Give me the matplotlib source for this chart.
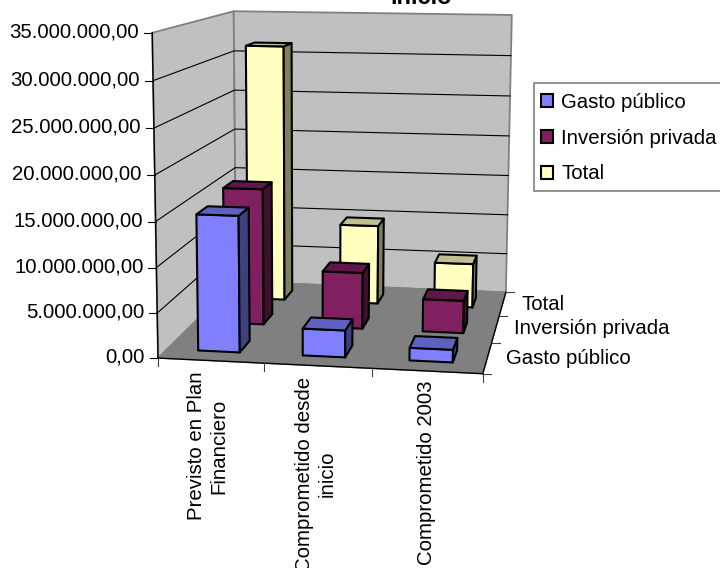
import numpy as np
import matplotlib
matplotlib.use("Agg")
import matplotlib.pyplot as plt
from matplotlib.patches import Patch, Rectangle

plt.rcParams["font.family"] = ["Liberation Sans", "DejaVu Sans"]

categories = ["Previsto en Plan\nFinanciero", "Comprometido desde\ninicio", "Comprometido 2003"]
series = ["Gasto público", "Inversión privada", "Total"]
gasto = [15200000, 3000000, 1400000]
inversion = [16000000, 6600000, 3800000]
total = [31400000, 9700000, 5400000]
values = [gasto, inversion, total]
zticks = [0, 5000000, 10000000, 15000000, 20000000, 25000000, 30000000, 35000000]
zmax = 35000000

front_cols = ["#8080FF", "#802060", "#FFFFC0"]
side_cols = ["#40407F", "#401030", "#80805F"]
top_cols = ["#6060BF", "#601848", "#BFBF90"]

# corners of the plot box: unit cube point -> pixel in the picture
box3d = [(0, 0, 0), (1, 0, 0), (0, 1, 0), (1, 1, 0), (0, 0, 1), (0, 1, 1), (1, 1, 1)]
box2d = [(159, 357.5), (483, 374), (235, 282), (506, 292), (151, 33), (235, 11), (511.5, 15)]

FS = 14.7


def fit_camera(pts3, pts2):
    rows = []
    for (x, y, z), (u, v) in zip(pts3, pts2):
        rows.append([x, y, z, 1, 0, 0, 0, 0, -u * x, -u * y, -u * z, -u])
        rows.append([0, 0, 0, 0, x, y, z, 1, -v * x, -v * y, -v * z, -v])
    _, _, vt = np.linalg.svd(np.array(rows, dtype=float))
    return vt[-1].reshape(3, 4)


cam = fit_camera(box3d, box2d)


def proj(x, y, z):
    p = cam @ np.array([x, y, z, 1.0])
    return p[0] / p[2], p[1] / p[2]


def face(ax, pts, color, edge="black", lw=1.5, zorder=2):
    xy = [proj(*p) for p in pts]
    ax.fill(*zip(*xy), facecolor=color, edgecolor=edge, linewidth=lw, joinstyle="round", zorder=zorder)


fig = plt.figure(figsize=(7.2, 5.68), dpi=100)
ax = fig.add_axes([0, 0, 1, 1])
ax.set_xlim(0, 720)
ax.set_ylim(568, 0)
ax.axis("off")

# walls and floor
face(ax, [(0, 0, 0), (0, 1, 0), (0, 1, 1), (0, 0, 1)], "#C0C0C0", "#808080", 1.3, 1)
face(ax, [(0, 1, 0), (1, 1, 0), (1, 1, 1), (0, 1, 1)], "#C0C0C0", "#808080", 1.3, 1)
face(ax, [(0, 0, 0), (1, 0, 0), (1, 1, 0), (0, 1, 0)], "#808080", "#808080", 1.0, 1)

# gridlines
for t in zticks[1:-1]:
    z = t / zmax
    line = [proj(0, 0, z), proj(0, 1, z), proj(1, 1, z)]
    ax.plot(*zip(*line), color="black", lw=0.8, zorder=1.5)

# axis lines
for a, b in [((0, 0, 0), (0, 0, 1)), ((0, 0, 0), (1, 0, 0)), ((1, 0, 0), (1, 1, 0))]:
    ax.plot(*zip(proj(*a), proj(*b)), color="black", lw=1.0, zorder=1.6)

# z ticks
for t in zticks:
    u, v = proj(0, 0, t / zmax)
    ax.plot([u - 8, u], [v, v], color="black", lw=0.8)
    label = f"{t:,.2f}".replace(",", "#").replace(".", ",").replace("#", ".")
    ax.text(u - 13, v - 1, label, ha="right", va="center", fontsize=FS, color="black")

# x and depth ticks
for i in range(len(categories) + 1):
    u, v = proj(i / len(categories), 0, 0)
    ax.plot([u, u], [v, v + 8], color="#404040", lw=0.8)
for j in range(len(series) + 1):
    u, v = proj(1, j / len(series), 0)
    ax.plot([u, u + 8], [v, v], color="#404040", lw=0.8)

# category and series labels
cat_pos = [(208, 446), (316, 474), (427, 473)]
for name, (u, v) in zip(categories, cat_pos):
    ax.text(u, v, name, rotation=90, ha="center", va="center", multialignment="center",
            fontsize=FS, linespacing=1.24, clip_on=False)
for name, (u, v) in zip(series, [(506, 359), (514, 328), (521, 304)]):
    ax.text(u, v, name, ha="left", va="center", fontsize=FS)

# bars, back row first
bw = 0.4 / len(categories)
bd = 0.4 / len(series)
for j in reversed(range(len(series))):
    for i in range(len(categories)):
        x0 = (i + 0.5) / len(categories) - bw / 2
        x1 = x0 + bw
        y0 = (j + 0.5) / len(series) - bd / 2
        y1 = y0 + bd
        h = values[j][i] / zmax
        face(ax, [(x0, y0, 0), (x1, y0, 0), (x1, y0, h), (x0, y0, h)], front_cols[j], zorder=3)
        face(ax, [(x1, y0, 0), (x1, y1, 0), (x1, y1, h), (x1, y0, h)], side_cols[j], zorder=3)
        face(ax, [(x0, y0, h), (x1, y0, h), (x1, y1, h), (x0, y1, h)], top_cols[j], zorder=3)

# title, cut off by the top of the picture
ax.text(421, 3.5, "inicio", ha="center", va="baseline", fontsize=17, fontweight="bold")

# legend runs past the right edge of the picture
ax.add_patch(Rectangle((534, 83), 220, 108, facecolor="white", edgecolor="#808080", lw=1.2, zorder=4))
handles = [Patch(facecolor=c, edgecolor="black", linewidth=1.5) for c in front_cols]
leg = ax.legend(handles, series, loc="upper left", bbox_to_anchor=(541 / 720, 1 - 93 / 568),
                bbox_transform=ax.transAxes, fontsize=FS, frameon=False, borderaxespad=0,
                handlelength=0.6, handleheight=0.6, handletextpad=0.4, labelspacing=0.82,
                borderpad=0)
leg.set_zorder(5)

fig.savefig("out.png", dpi=100)
